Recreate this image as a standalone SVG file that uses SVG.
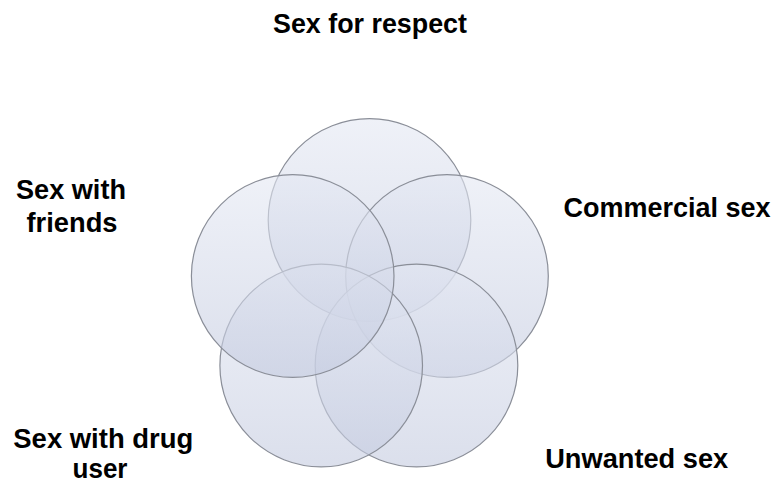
<svg xmlns="http://www.w3.org/2000/svg" width="776" height="491" viewBox="0 0 776 491">
<style>
.c{fill:url(#g);stroke:#8a8e98;stroke-width:1.2}
.t{font-family:"Liberation Sans",Arial,sans-serif;font-weight:bold;font-size:27px;fill:#000;text-anchor:middle}
</style>
<defs>
<linearGradient id="g" x1="0" y1="0" x2="0" y2="1">
<stop offset="0" stop-color="#e4e8f3" stop-opacity="0.6"/>
<stop offset="1" stop-color="#c3cadf" stop-opacity="0.6"/>
</linearGradient>
</defs>
<rect width="776" height="491" fill="#fff"/>
<g id="circles">
<circle id="c-top" class="c" cx="369.5" cy="220" r="101.3"/>
<circle id="c-right" class="c" cx="447" cy="276" r="101.3"/>
<circle id="c-bright" class="c" cx="416.5" cy="365.5" r="101.3"/>
<circle id="c-bleft" class="c" cx="321.2" cy="365.5" r="101.3"/>
<circle id="c-left" class="c" cx="292.7" cy="276" r="101.3"/>
</g>
<g id="labels">
<g id="l-respect"><text class="t" x="370" y="33" textLength="194" lengthAdjust="spacingAndGlyphs">Sex for respect</text></g>
<g id="l-friends"><text class="t" x="71" y="199" textLength="110" lengthAdjust="spacingAndGlyphs">Sex with</text><text class="t" x="72" y="231.5" textLength="91" lengthAdjust="spacingAndGlyphs">friends</text></g>
<g id="l-commercial"><text class="t" x="667" y="216.5" textLength="207" lengthAdjust="spacingAndGlyphs">Commercial sex</text></g>
<g id="l-drug"><text class="t" x="103.3" y="448" textLength="180" lengthAdjust="spacingAndGlyphs">Sex with drug</text><text class="t" x="100" y="478" textLength="55" lengthAdjust="spacingAndGlyphs">user</text></g>
<g id="l-unwanted"><text class="t" x="636.7" y="468" textLength="183" lengthAdjust="spacingAndGlyphs">Unwanted sex</text></g>
</g>
</svg>
